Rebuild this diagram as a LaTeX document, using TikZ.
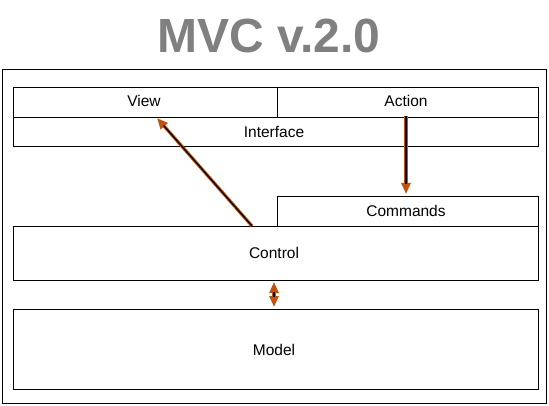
\documentclass[tikz,border=0pt]{standalone}
\usepackage{fontspec}
\setmainfont{Liberation Sans}
\usetikzlibrary{arrows.meta}
\definecolor{arr}{RGB}{192,84,14}
\definecolor{ttl}{RGB}{128,128,128}
\begin{document}
\begin{tikzpicture}[x=1pt,y=-1pt,
  box/.style={draw=black,line width=0.9pt,inner sep=0pt},
  lbl/.style={font=\fontsize{15.5}{18}\selectfont},
  arrline/.style={draw=arr,line width=3.2pt},
  arrcore/.style={draw=black,line width=1.3pt},
  tip/.style={-{Triangle[length=11pt,width=9pt,fill=arr,color=arr]}}]
\useasboundingbox (0,0) rectangle (549,406);
\node[font=\fontsize{48}{52}\bfseries\selectfont,text=ttl] (title) at (269,36) {MVC v.2.0};
\node[draw=black,line width=0.9pt,minimum width=544pt,minimum height=334pt,anchor=north west,inner sep=0pt] (frame) at (2,69) {};
\node[box,minimum width=264pt,minimum height=30pt,anchor=north west] (view) at (13,87) {};
\node[box,minimum width=261pt,minimum height=30pt,anchor=north west] (action) at (277,87) {};
\node[box,minimum width=525pt,minimum height=29pt,anchor=north west] (iface) at (13,117) {};
\node[box,minimum width=261pt,minimum height=30pt,anchor=north west] (cmds) at (277,196) {};
\node[box,minimum width=525pt,minimum height=54pt,anchor=north west] (ctrl) at (13,226) {};
\node[box,minimum width=525pt,minimum height=80pt,anchor=north west] (model) at (13,309) {};
\node[lbl] (tview) at (144,101) {View};
\node[lbl] (taction) at (406,101) {Action};
\node[lbl] (tiface) at (274,132) {Interface};
\node[lbl] (tcmds) at (406,211) {Commands};
\node[lbl] (tctrl) at (274,253) {Control};
\node[lbl] (tmodel) at (274,350) {Model};
\coordinate (a1s) at (252,226);
\coordinate (a1e) at (157,118);
\coordinate (a2s) at (406,116);
\coordinate (a2e) at (406,194);
\coordinate (a3s) at (274,282);
\coordinate (a3e) at (274,307);
% arrow Control -> View
\draw[arrline,tip] (a1s) -- (a1e);
\draw[arrcore,shorten >=10pt] (a1s) -- (a1e);
% arrow Action -> Commands
\draw[arrline,tip] (a2s) -- (a2e);
\draw[arrcore,shorten >=10pt] (a2s) -- (a2e);
% double arrow Control <-> Model
\draw[arrline,{Triangle[length=11pt,width=9pt,fill=arr,color=arr]}-{Triangle[length=11pt,width=9pt,fill=arr,color=arr]}] (a3s) -- (a3e);
\draw[arrcore,shorten >=10pt,shorten <=10pt] (a3s) -- (a3e);
\end{tikzpicture}
\end{document}
